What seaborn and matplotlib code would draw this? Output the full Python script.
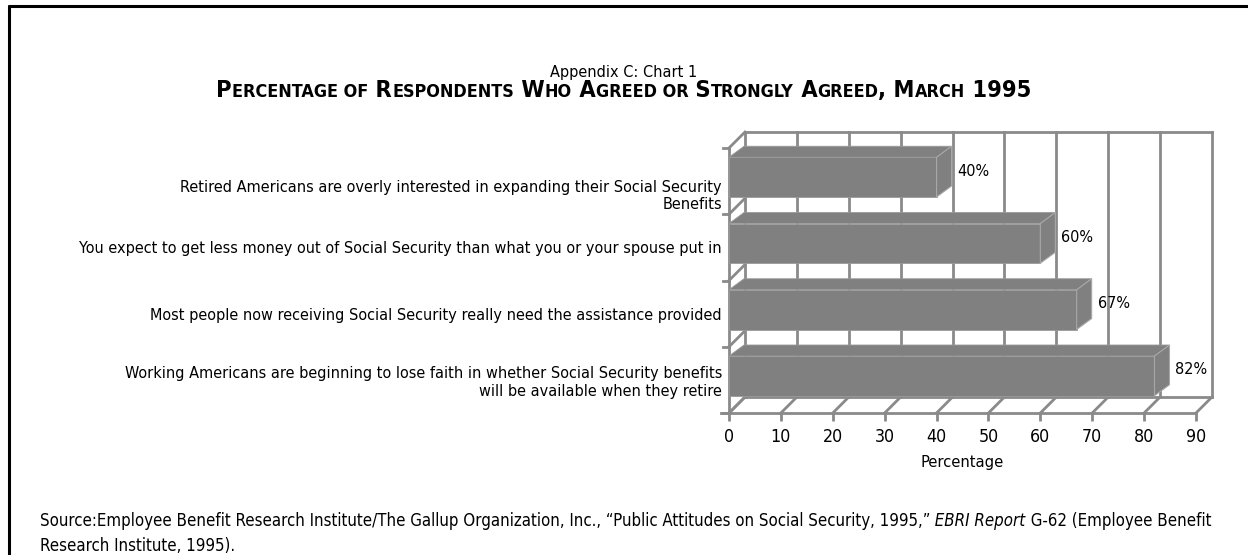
import glob
import os
import matplotlib
matplotlib.use("Agg")
import matplotlib.pyplot as plt
import matplotlib.transforms as mtransforms
from matplotlib import font_manager as fm
from matplotlib.font_manager import FontProperties
from matplotlib.lines import Line2D
from matplotlib.patches import Polygon
import numpy as np
import pandas as pd
import seaborn as sns

# ---------------- data ----------------
categories = [
    "Retired Americans are overly interested in expanding their Social Security\nBenefits",
    "You expect to get less money out of Social Security than what you or your spouse put in",
    "Most people now receiving Social Security really need the assistance provided",
    "Working Americans are beginning to lose faith in whether Social Security benefits\nwill be available when they retire",
]
values = [40, 60, 67, 82]
value_labels = ["40%", "60%", "67%", "82%"]
x_ticks = [0, 10, 20, 30, 40, 50, 60, 70, 80, 90]
x_label = "Percentage"
supertitle = "Appendix C: Chart 1"
title = "Percentage of Respondents Who Agreed or Strongly Agreed, March 1995"
source_line1_a = "Source:Employee Benefit Research Institute/The Gallup Organization, Inc., \u201cPublic Attitudes on Social Security, 1995,\u201d"
source_line1_b = " EBRI Report"
source_line1_c = " G-62 (Employee Benefit"
source_line2 = "Research Institute, 1995)."

# ---------------- style ----------------
sns.set_theme(style="white")
plt.rcParams["font.family"] = ["DejaVu Sans"]

# look for a condensed / narrow sans face (closest to the reference typeface)
files = [f.fname for f in fm.fontManager.ttflist]
files += glob.glob("/usr/share/fonts/**/*.ttf", recursive=True)
files = sorted(set(files))


def find(keys_any, must_not=()):
    for f in files:
        b = os.path.basename(f)
        if all(k in b for k in keys_any) and not any(m in b for m in must_not):
            return f
    return None


FACES = None
for fam in (("LiberationSansNarrow-Regular", "LiberationSansNarrow-Bold", "LiberationSansNarrow-Italic"),
            ("DejaVuSansCondensed.ttf", "DejaVuSansCondensed-Bold.ttf", "DejaVuSansCondensed-Oblique.ttf"),
            ("RobotoCondensed-Regular", "RobotoCondensed-Bold", "RobotoCondensed-Italic")):
    r = find((fam[0],))
    if r:
        FACES = {"normal": r, "bold": find((fam[1],)) or r, "italic": find((fam[2],)) or r}
        break


def fprop(size, weight="normal", style="normal"):
    if FACES:
        key = "bold" if weight == "bold" else ("italic" if style == "italic" else "normal")
        return FontProperties(fname=FACES[key], size=size)
    return FontProperties(family="DejaVu Sans", weight=weight, style=style, size=size)


W, H = 1248, 555
GRID = "#8a8a8a"
BAR = "#808080"
DEPTH = np.array([16.0, 16.0])      # wall depth offset in pixels (right, up)
BAR_DEPTH = np.array([15.0, 11.0])  # bar depth offset in pixels
BAR_SHIFT = np.array([0.0, 4.0])    # bar front-face shift

fig = plt.figure(figsize=(W / 100, H / 100), dpi=100)
renderer = fig.canvas.get_renderer()


def text_width(s, props):
    t = fig.text(0, 0, s, fontproperties=props)
    w = t.get_window_extent(renderer).width
    t.remove()
    return w


def fit(s, target, weight="normal", style="normal", base=12.0):
    return base * target / text_width(s, fprop(base, weight, style))


# font sizes fitted to the reference text widths (pixels)
cat_size = fit("You expect to get less money out of Social Security than what you or your spouse put in", 642)
val_size = fit("82%", 32)
xl_size = fit("Percentage", 83)
tick_size = xl_size * 1.08
sup_size = cat_size
src_size = fit(source_line1_a + source_line1_b + source_line1_c, 1165)

ax = fig.add_axes([729 / W, 1 - 413 / H, (1196 - 729) / W, (413 - 148) / H])
ax.set_facecolor("none")

df = pd.DataFrame({"cat": categories, "val": values})
sns.barplot(data=df, x="val", y="cat", orient="h", color=BAR, saturation=1,
            width=0.6, edgecolor="#9a9a9a", linewidth=0.6, ax=ax, zorder=3)
ax.set_xlim(0, 90)
ax.set_ylim(3.5, -0.5)

for s in ax.spines.values():
    s.set_visible(False)

ident = mtransforms.IdentityTransform()


def disp(x, y, depth=(0.0, 0.0)):
    return ax.transData.transform((x, y)) + np.asarray(depth)


def seg(p0, p1, **kw):
    ln = Line2D([p0[0], p1[0]], [p0[1], p1[1]], transform=ident, clip_on=False,
                color=GRID, lw=2.0, solid_capstyle="projecting", **kw)
    ax.add_line(ln)


# ---------- walls (behind bars) ----------
z = 1
for xt in x_ticks:
    seg(disp(xt, 3.5, DEPTH), disp(xt, -0.5, DEPTH), zorder=z)
seg(disp(0, -0.5, DEPTH), disp(90, -0.5, DEPTH), zorder=z)
seg(disp(0, 3.5, DEPTH), disp(90, 3.5, DEPTH), zorder=z)
for xt in x_ticks:
    seg(disp(xt, 3.5), disp(xt, 3.5, DEPTH), zorder=z)
seg(disp(0, 3.5) - np.array([8, 0]), disp(90, 3.5), zorder=z)
seg(disp(0, -0.5), disp(0, 3.5), zorder=z)
for b in [-0.5, 0.5, 1.5, 2.5, 3.5]:
    seg(disp(0, b), disp(0, b, DEPTH), zorder=z)
    seg(disp(0, b) - np.array([6, 0]), disp(0, b), zorder=z)

# ---------- 3D bars ----------
for p in ax.patches:
    p.set_transform(ax.transData + mtransforms.Affine2D().translate(*BAR_SHIFT))
    x0, y0, w, h = p.get_x(), p.get_y(), p.get_width(), p.get_height()
    ftl = disp(x0, y0, BAR_SHIFT)
    ftr = disp(x0 + w, y0, BAR_SHIFT)
    fbr = disp(x0 + w, y0 + h, BAR_SHIFT)
    top = Polygon([ftl, ftr, ftr + BAR_DEPTH, ftl + BAR_DEPTH], closed=True,
                  transform=ident, clip_on=False, facecolor=BAR,
                  edgecolor="#9a9a9a", lw=0.6, zorder=3)
    side = Polygon([ftr, fbr, fbr + BAR_DEPTH, ftr + BAR_DEPTH], closed=True,
                   transform=ident, clip_on=False, facecolor=BAR,
                   edgecolor="#a8a8a8", lw=0.8, zorder=3)
    ax.add_patch(top)
    ax.add_patch(side)

for i, (v, lab) in enumerate(zip(values, value_labels)):
    ax.annotate(lab, xy=(v, i), xytext=(BAR_DEPTH[0] + 6, 10),
                textcoords="offset pixels", ha="left", va="center",
                fontproperties=fprop(val_size), color="black", annotation_clip=False)

# ---------- axes ticks / labels ----------
ax.set_xticks(x_ticks)
ax.set_xticklabels([str(t) for t in x_ticks])
for t in ax.get_xticklabels():
    t.set_fontproperties(fprop(tick_size))
    t.set_color("black")
ax.tick_params(axis="x", which="major", direction="out", length=5.5, width=2,
               color=GRID, pad=5, bottom=True)
ax.set_xlabel(x_label, fontproperties=fprop(xl_size), labelpad=7, color="black")

ax.set_yticks(range(len(categories)))
ax.set_yticklabels(categories, ha="right", linespacing=1.2)
for t in ax.get_yticklabels():
    t.set_fontproperties(fprop(cat_size))
    t.set_color("black")
ax.tick_params(axis="y", which="major", length=0, pad=5)
ax.set_ylabel("")
lbl0 = ax.get_yticklabels()[0]
lbl0.set_transform(lbl0.get_transform() + mtransforms.Affine2D().translate(0, -12))


# ---------- titles & source (chunked text) ----------
def chunks_text(chunks, x, y_base, align="left"):
    texts = [fig.text(0, 1 - y_base / H, s, va="baseline", ha="left",
                      fontproperties=pr, color="black") for s, pr in chunks]
    widths = [t.get_window_extent(renderer).width for t in texts]
    total = sum(widths)
    start = x - total / 2 if align == "center" else x
    cur = start
    for t, wdt in zip(texts, widths):
        t.set_x(cur / W)
        cur += wdt
    return total


def small_caps(s, big, small):
    chunks = []
    pending = ""
    for ch in s:
        if ch == " ":
            pending += ch
            continue
        size = small if ch.islower() else big
        txt = pending + ch.upper()
        pending = ""
        if chunks and chunks[-1][1] == size:
            chunks[-1][0] += txt
        else:
            chunks.append([txt, size])
    return [(c, fprop(sz, weight="bold")) for c, sz in chunks]


def title_width(big):
    w = 0
    for c, pr in small_caps(title, big, big * 0.76):
        w += text_width(c, pr)
    return w


big = 17 * 812 / title_width(17)
fig.text(624 / W, 1 - 77 / H, supertitle, ha="center", va="baseline",
         fontproperties=fprop(sup_size), color="black")
chunks_text(small_caps(title, big, big * 0.76), 624, 97, align="center")

chunks_text([
    (source_line1_a, fprop(src_size)),
    (source_line1_b, fprop(src_size, style="italic")),
    (source_line1_c, fprop(src_size)),
], 40, 526)
chunks_text([(source_line2, fprop(src_size))], 40, 551)

# ---------- page border ----------
fig.add_artist(Line2D([9 / W, 9 / W], [0, 1 - 6 / H], color="black", lw=2.2,
                      transform=fig.transFigure))
fig.add_artist(Line2D([9 / W, 1], [1 - 6 / H, 1 - 6 / H], color="black", lw=2.2,
                      transform=fig.transFigure))

fig.savefig("out.png", dpi=100)
